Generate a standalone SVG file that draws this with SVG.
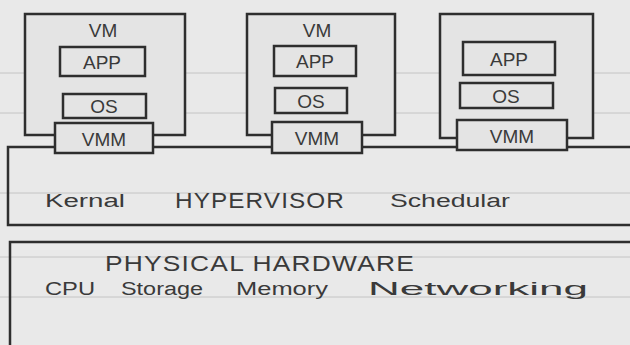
<svg xmlns="http://www.w3.org/2000/svg" width="630" height="345" viewBox="0 0 630 345">
<style>
.bx{fill:none;stroke:#2e2e2e;stroke-width:2.5}
.in{fill:#e4e4e4;stroke:#2e2e2e;stroke-width:2.5}
.rule{stroke:#c4c4c4;stroke-width:1}
text{font-family:"Liberation Sans",Arial,sans-serif;fill:#3a3a3a;text-anchor:middle;dominant-baseline:central}
.cap{font-size:19px}
.big{font-size:22px;letter-spacing:1px}
.hw{font-size:18px}
</style>
<rect width="630" height="345" fill="#e9e9e9"/>
<g id="paper-rules">
<line class="rule" x1="0" y1="73" x2="630" y2="73"/>
<line class="rule" x1="0" y1="113" x2="630" y2="113"/>
<line class="rule" x1="0" y1="193" x2="630" y2="193"/>
<line class="rule" x1="0" y1="257" x2="630" y2="257"/>
<line class="rule" x1="0" y1="297" x2="630" y2="297"/>
</g>
<g id="hardware">
<path class="bx" d="M630 242 H10 V345"/>
<text class="big" x="260" y="263" textLength="310" lengthAdjust="spacingAndGlyphs">PHYSICAL HARDWARE</text>
<text class="hw" x="70" y="289" textLength="50" lengthAdjust="spacingAndGlyphs">CPU</text>
<text class="hw" x="162" y="289" textLength="82" lengthAdjust="spacingAndGlyphs">Storage</text>
<text class="hw" x="282" y="289" textLength="92" lengthAdjust="spacingAndGlyphs">Memory</text>
<text class="hw" x="478" y="289" font-size="20" textLength="220" lengthAdjust="spacingAndGlyphs">Networking</text>
</g>
<g id="hypervisor">
<path class="bx" d="M630 147 H8 V225 H630"/>
<text class="hw" x="85" y="201" textLength="80" lengthAdjust="spacingAndGlyphs">Kernal</text>
<text class="big" x="260" y="200" textLength="170" lengthAdjust="spacingAndGlyphs">HYPERVISOR</text>
<text class="hw" x="450" y="201" textLength="120" lengthAdjust="spacingAndGlyphs">Schedular</text>
</g>
<g id="vm1">
<rect class="in" x="25" y="14" width="160" height="121"/>
<text class="cap" x="103" y="30">VM</text>
<rect class="in" x="60" y="47" width="85" height="29"/>
<text class="cap" x="102" y="62">APP</text>
<rect class="in" x="63" y="94" width="83" height="24"/>
<text class="cap" x="104" y="106" font-size="14">OS</text>
<rect class="in" x="55" y="123" width="98" height="30"/>
<text class="cap" x="104" y="139">VMM</text>
</g>
<g id="vm2">
<rect class="in" x="247" y="14" width="148" height="121"/>
<text class="cap" x="317" y="30">VM</text>
<rect class="in" x="274" y="46" width="82" height="30"/>
<text class="cap" x="315" y="61">APP</text>
<rect class="in" x="275" y="88" width="72" height="25"/>
<text class="cap" x="311" y="101" font-size="14">OS</text>
<rect class="in" x="272" y="122" width="90" height="31"/>
<text class="cap" x="317" y="138">VMM</text>
</g>
<g id="vm3">
<rect class="in" x="440" y="14" width="153" height="124"/>
<rect class="in" x="463" y="42" width="92" height="33"/>
<text class="cap" x="509" y="59">APP</text>
<rect class="in" x="460" y="83" width="93" height="25"/>
<text class="cap" x="506" y="96" font-size="14">OS</text>
<rect class="in" x="457" y="120" width="110" height="30"/>
<text class="cap" x="512" y="136">VMM</text>
</g>
<g id="connectors"></g>
</svg>
